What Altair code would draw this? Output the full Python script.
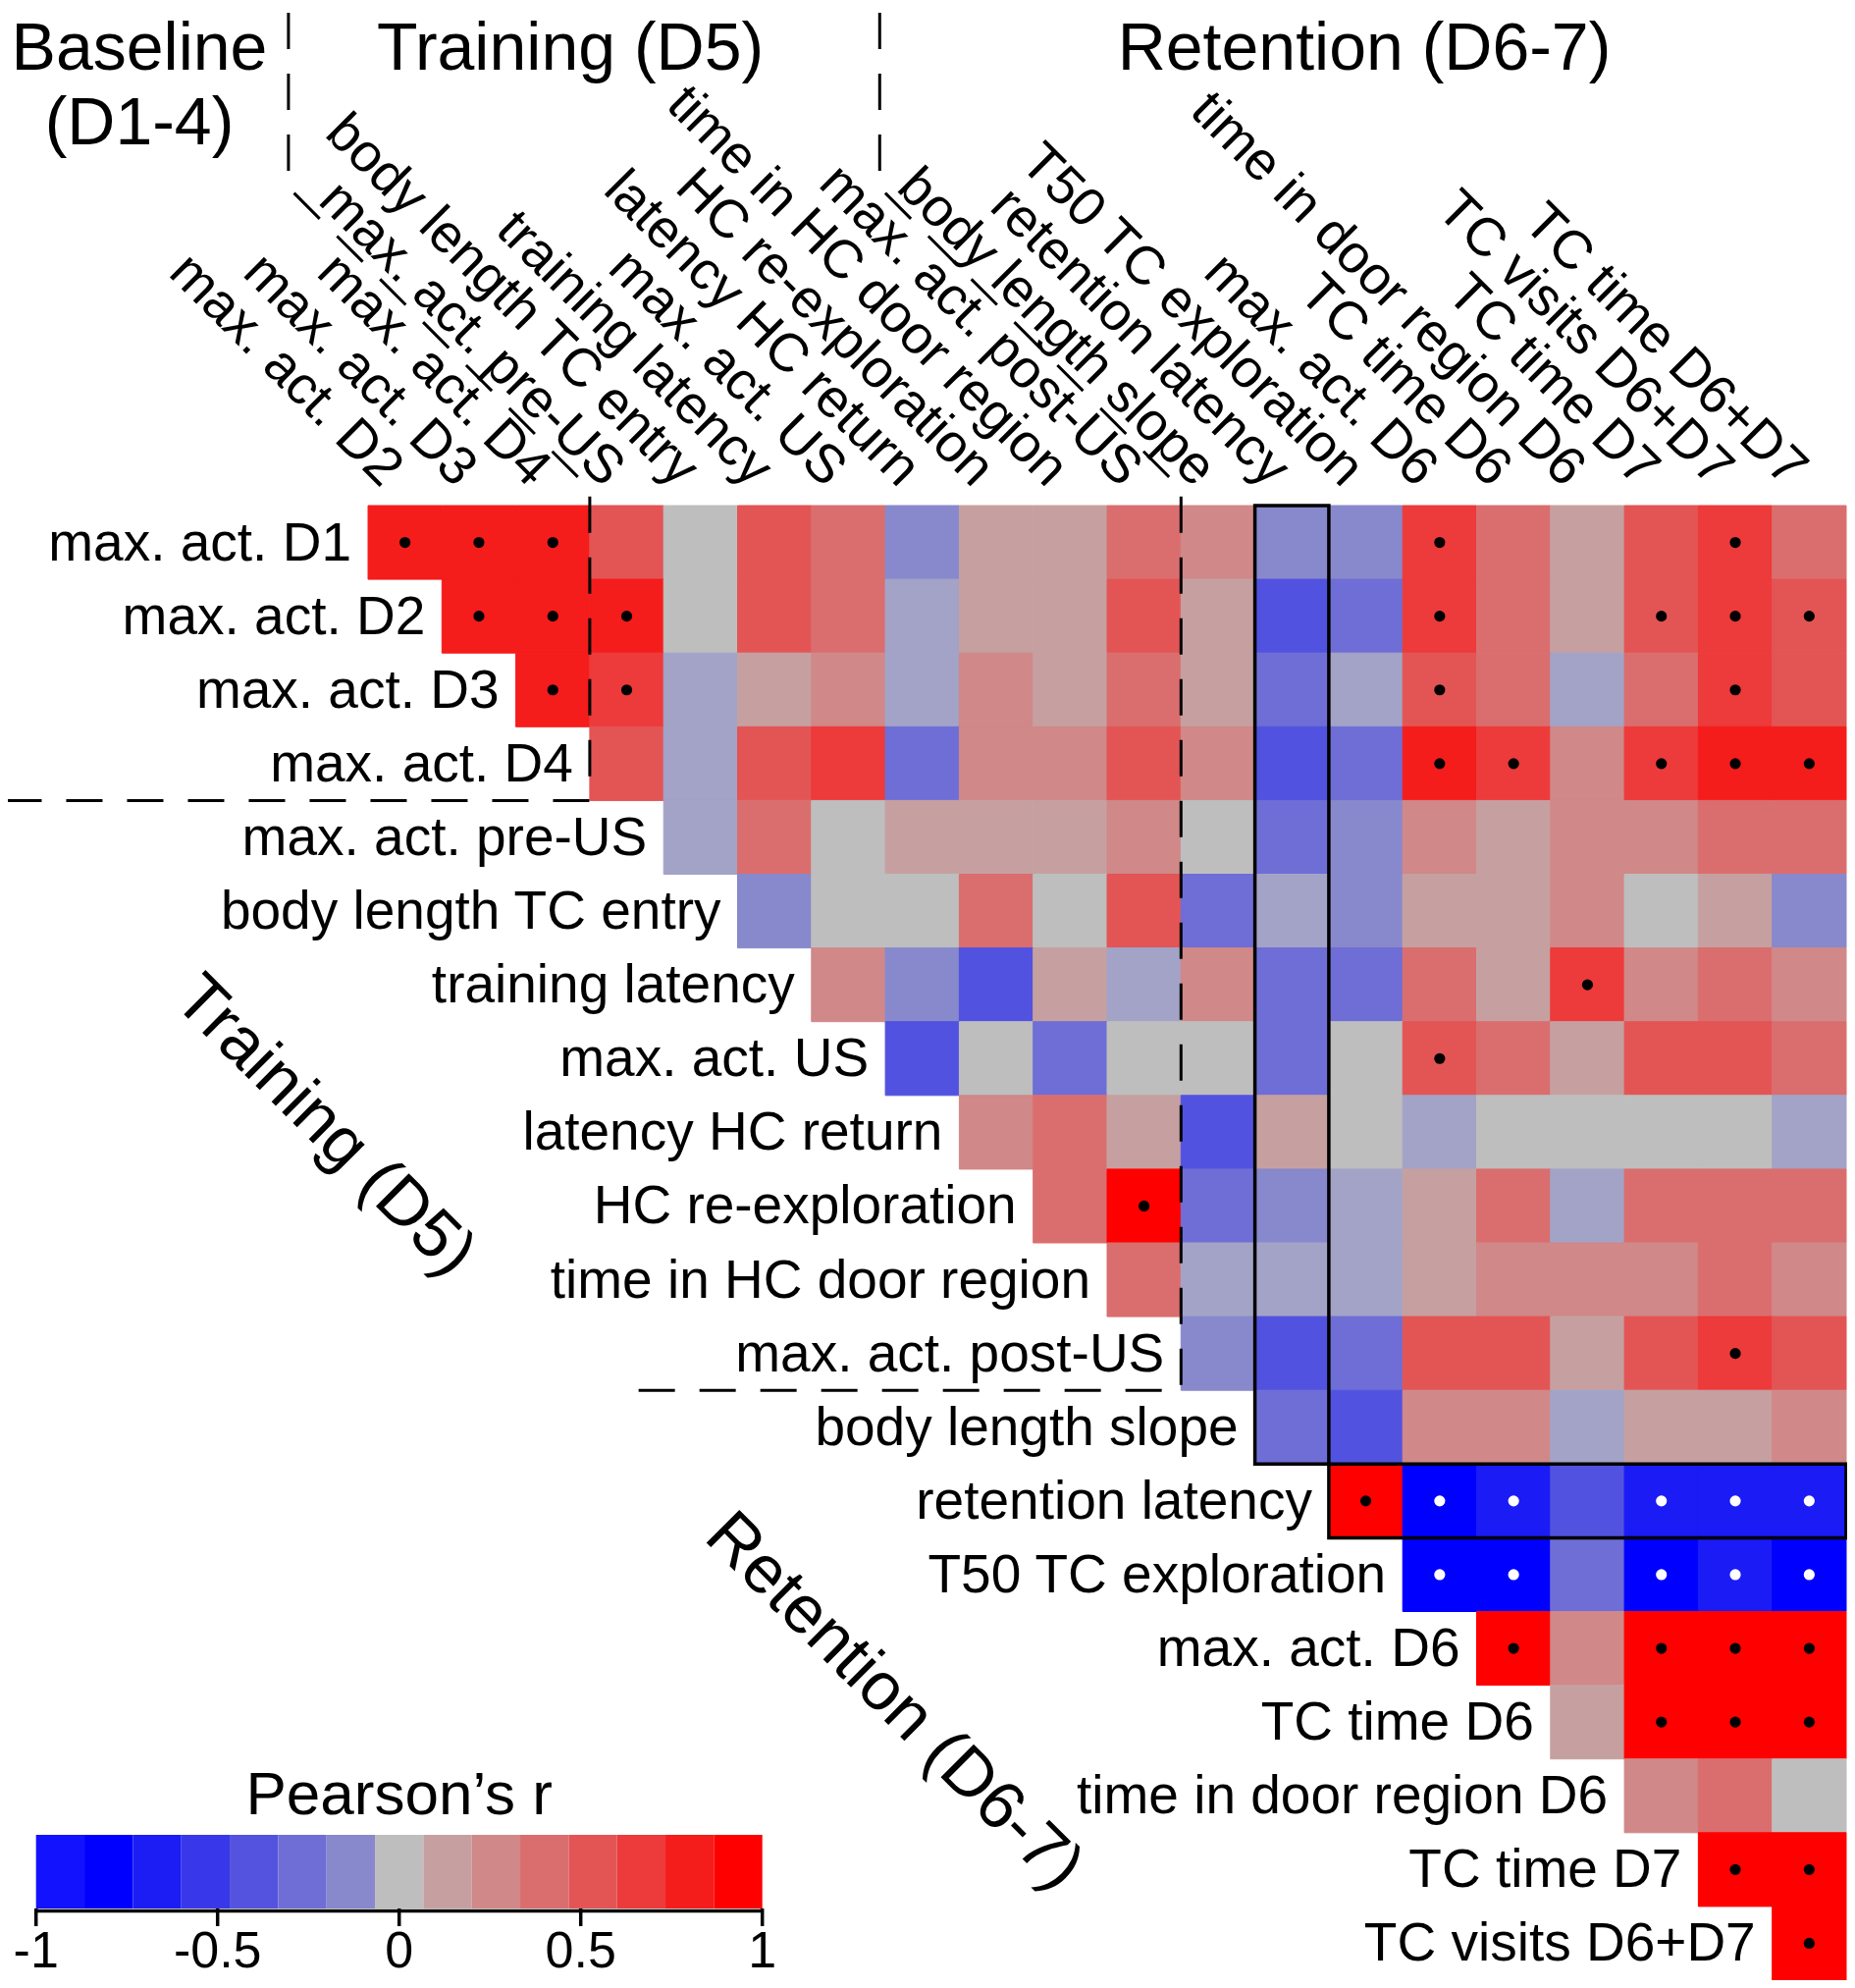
import altair as alt
import pandas as pd

# ------------------------------------------------------------------ data
VARIABLES = [
    "max. act. D1", "max. act. D2", "max. act. D3", "max. act. D4",
    "max. act. pre-US", "body length TC entry", "training latency",
    "max. act. US", "latency HC return", "HC re-exploration",
    "time in HC door region", "max. act. post-US", "body length slope",
    "retention latency", "T50 TC exploration", "max. act. D6",
    "TC time D6", "time in door region D6", "TC time D7",
    "TC visits D6+D7", "TC time D6+D7",
]
ROW_VARS = VARIABLES[:-1]
COL_VARS = VARIABLES[1:]

# Pearson's r of each row variable with the column variables from the
# diagonal (column index = row index) to the last column
r_max_act_D1 = [0.80, 0.80, 0.80, 0.53, 0.00, 0.53, 0.40, -0.27, 0.13, 0.13,
                0.40, 0.27, -0.27, -0.27, 0.67, 0.40, 0.13, 0.53, 0.67, 0.40]
r_max_act_D2 = [0.80, 0.80, 0.80, 0.00, 0.53, 0.40, -0.13, 0.13, 0.13, 0.53,
                0.13, -0.53, -0.40, 0.67, 0.40, 0.13, 0.53, 0.67, 0.53]
r_max_act_D3 = [0.80, 0.67, -0.13, 0.13, 0.27, -0.13, 0.27, 0.13, 0.40, 0.13,
                -0.40, -0.13, 0.53, 0.40, -0.13, 0.40, 0.67, 0.53]
r_max_act_D4 = [0.53, -0.13, 0.53, 0.67, -0.40, 0.27, 0.27, 0.53, 0.27, -0.53,
                -0.40, 0.80, 0.67, 0.27, 0.67, 0.80, 0.80]
r_pre_US = [-0.13, 0.40, 0.00, 0.13, 0.13, 0.13, 0.27, 0.00, -0.40, -0.27,
            0.27, 0.13, 0.27, 0.27, 0.40, 0.40]
r_body_len_TC_entry = [-0.27, 0.00, 0.00, 0.40, 0.00, 0.53, -0.40, -0.13, -0.27,
                       0.13, 0.13, 0.27, 0.00, 0.13, -0.27]
r_training_latency = [0.27, -0.27, -0.53, 0.13, -0.13, 0.27, -0.40, -0.40, 0.40,
                      0.13, 0.67, 0.27, 0.40, 0.27]
r_max_act_US = [-0.53, 0.00, -0.40, 0.00, 0.00, -0.40, 0.00, 0.53, 0.40, 0.13,
                0.53, 0.53, 0.40]
r_latency_HC_return = [0.27, 0.40, 0.13, -0.53, 0.13, 0.00, -0.13, 0.00, 0.00,
                       0.00, 0.00, -0.13]
r_HC_reexploration = [0.40, 0.93, -0.40, -0.27, -0.13, 0.13, 0.40, -0.13, 0.40,
                      0.40, 0.40]
r_time_HC_door = [0.40, -0.13, -0.13, -0.13, 0.13, 0.27, 0.27, 0.27, 0.40, 0.27]
r_post_US = [-0.27, -0.53, -0.40, 0.53, 0.53, 0.13, 0.53, 0.67, 0.53]
r_body_len_slope = [-0.40, -0.53, 0.27, 0.27, -0.13, 0.13, 0.13, 0.27]
r_retention_latency = [0.93, -0.93, -0.80, -0.53, -0.80, -0.80, -0.80]
r_T50_TC_exploration = [-0.93, -0.93, -0.40, -0.93, -0.80, -0.93]
r_max_act_D6 = [0.93, 0.27, 0.93, 0.93, 0.93]
r_TC_time_D6 = [0.13, 0.93, 0.93, 0.93]
r_door_region_D6 = [0.27, 0.40, 0.00]
r_TC_time_D7 = [0.93, 0.93]
r_TC_visits = [0.93]

R_ROWS = [r_max_act_D1, r_max_act_D2, r_max_act_D3, r_max_act_D4, r_pre_US,
          r_body_len_TC_entry, r_training_latency, r_max_act_US,
          r_latency_HC_return, r_HC_reexploration, r_time_HC_door, r_post_US,
          r_body_len_slope, r_retention_latency, r_T50_TC_exploration,
          r_max_act_D6, r_TC_time_D6, r_door_region_D6, r_TC_time_D7,
          r_TC_visits]

# significant correlations: column indices (into COL_VARS) per row
sig_max_act_D1 = [0, 1, 2, 14, 18]
sig_max_act_D2 = [1, 2, 3, 14, 17, 18, 19]
sig_max_act_D3 = [2, 3, 14, 18]
sig_max_act_D4 = [14, 15, 17, 18, 19]
sig_training_latency = [16]
sig_max_act_US = [14]
sig_HC_reexploration = [10]
sig_post_US = [18]
sig_retention_latency = [13, 14, 15, 17, 18, 19]
sig_T50_TC_exploration = [14, 15, 17, 18, 19]
sig_max_act_D6 = [15, 17, 18, 19]
sig_TC_time_D6 = [17, 18, 19]
sig_TC_time_D7 = [18, 19]
sig_TC_visits = [19]
SIG_ROWS = [sig_max_act_D1, sig_max_act_D2, sig_max_act_D3, sig_max_act_D4,
            [], [], sig_training_latency, sig_max_act_US, [],
            sig_HC_reexploration, [], sig_post_US, [],
            sig_retention_latency, sig_T50_TC_exploration, sig_max_act_D6,
            sig_TC_time_D6, [], sig_TC_time_D7, sig_TC_visits]

GROUP_STARTS = ["max. act. pre-US", "body length slope"]   # first variable of Training / Retention blocks
HIGHLIGHT_VAR = "retention latency"

TOP_TITLES = ["Baseline", "(D1-4)", "Training (D5)", "Retention (D6-7)"]
SIDE_TITLES = ["Training (D5)", "Retention (D6-7)"]
LEGEND_TITLE = "Pearson\u2019s r"
LEGEND_TICKS = [-1, -0.5, 0, 0.5, 1]
LEGEND_TICK_LABELS = ["-1", "-0.5", "0", "0.5", "1"]

# ------------------------------------------------------------------ style / layout
N_BINS = 15
THRESHOLDS = [-1 + 2 * k / N_BINS for k in range(1, N_BINS)]
CELL_COLORS = ["#0000FF", "#1B1BF5", "#3636EA", "#5252E0", "#6E6ED6", "#8888CC",
               "#A3A3C7", "#BEBEBE", "#C6A0A0", "#D08888", "#DA6E6E", "#E35555",
               "#ED3A3A", "#F51C1C", "#FF0000"]
LEGEND_COLORS = ["#1212FF", "#0000FF", "#1C1CF5", "#3838EA", "#5353E0", "#6E6ED6",
                 "#8888CC", "#BEBEBE", "#C6A0A0", "#D08888", "#DA6E6E", "#E35555",
                 "#ED3A3A", "#F51C1C", "#FF0000"]
FONT = "Liberation Sans"
LABEL_SIZE = 55

W, H, PAGE = 1874, 2009, 8
GX0, GY0 = 375.0, 515.0      # grid top-left (pixels)
CW, CH = 75.3, 75.1          # cell size (pixels)


def ux(px):
    return (px - GX0) / CW


def uy(py):
    return (py - GY0) / CH


XS = alt.Scale(domain=[ux(PAGE), ux(PAGE + W)], nice=False, zero=False)
YS = alt.Scale(domain=[uy(PAGE), uy(PAGE + H)], nice=False, zero=False, reverse=True)
CELL_SCALE = alt.Scale(type="threshold", domain=THRESHOLDS, range=CELL_COLORS)


def X(f):
    return alt.X(f, type="quantitative", scale=XS, axis=None)


def Y(f):
    return alt.Y(f, type="quantitative", scale=YS, axis=None)


# ------------------------------------------------------------------ tables
cells, black_dots, white_dots = [], [], []
for i, (row, vals) in enumerate(zip(ROW_VARS, R_ROWS)):
    for k, v in enumerate(vals):
        j = i + k
        rec = dict(row=row, col=COL_VARS[j], r=v, x0=j, x1=j + 1, y0=i, y1=i + 1,
                   xc=j + 0.5, yc=i + 0.5)
        cells.append(rec)
        if j in SIG_ROWS[i]:
            (black_dots if v > 0 else white_dots).append(rec)
cells_df = pd.DataFrame(cells)
black_df = pd.DataFrame(black_dots)
white_df = pd.DataFrame(white_dots)

collab_df = pd.DataFrame({
    "label": COL_VARS,
    "x": [j + 0.5 + (-24.0) / CW for j in range(len(COL_VARS))],
    "y": [(-17.0) / CH] * len(COL_VARS),
})
rowlab_df = pd.DataFrame({
    "label": ROW_VARS,
    "x": list(range(len(ROW_VARS))),
    "y": [i + 0.5 for i in range(len(ROW_VARS))],
})

hc = COL_VARS.index(HIGHLIGHT_VAR)
hr = ROW_VARS.index(HIGHLIGHT_VAR)
box_df = pd.DataFrame({
    "x0": [hc, hr], "x1": [hc + 1, len(COL_VARS)],
    "y0": [0, hr], "y1": [hr, hr + 1],
})

# dashed group separators: header vertical -> 45deg diagonal -> grid vertical -> row underline
line_rows = []
HEAD_TOP_PX, HEAD_CORNER_PX, HEAD_SHIFT_PX = 13.0, 191.0, 307.0
LEFT_END_PX = [6.0, 628.0]
for g, name in enumerate(GROUP_STARTS):
    cb = COL_VARS.index(name)
    rb = ROW_VARS.index(name)
    pts = [
        (cb - HEAD_SHIFT_PX / CW, uy(HEAD_TOP_PX)),
        (cb - HEAD_SHIFT_PX / CW, uy(HEAD_CORNER_PX)),
        (cb, uy(HEAD_CORNER_PX + HEAD_SHIFT_PX)),
        (cb, rb),
        (ux(LEFT_END_PX[g]), rb),
    ]
    for s, (x, y) in enumerate(pts):
        line_rows.append(dict(line=g, seq=s, x=x, y=y))
lines_df = pd.DataFrame(line_rows)

top_df = pd.DataFrame({
    "label": TOP_TITLES,
    "x": [ux(142), ux(142), ux(581), ux(1390)],
    "y": [uy(71), uy(147), uy(71), uy(71)],
})
side_df = pd.DataFrame({
    "label": SIDE_TITLES,
    "x": [ux(331), ux(911)],
    "y": [uy(1147), uy(1733)],
})

LEG_L, LEG_R, LEG_T, LEG_B = 36.7, 776.7, 1869.0, 1944.0


def lx(v):
    return ux(LEG_L + (v + 1) / 2 * (LEG_R - LEG_L))


edges = [-1.0] + THRESHOLDS + [1.0]
legend_df = pd.DataFrame({
    "x0": [lx(e) for e in edges[:-1]],
    "x1": [lx(e) for e in edges[1:]],
    "y0": [uy(LEG_T)] * N_BINS,
    "y1": [uy(LEG_B)] * N_BINS,
    "color": LEGEND_COLORS,
})
leg_axis_df = pd.DataFrame({"x0": [lx(-1)], "x1": [lx(1)], "y": [uy(1946.5)]})
leg_ticks_df = pd.DataFrame({
    "x": [lx(v) for v in LEGEND_TICKS],
    "y0": [uy(1944)] * len(LEGEND_TICKS),
    "y1": [uy(1962)] * len(LEGEND_TICKS),
    "label": LEGEND_TICK_LABELS,
    "ly": [uy(2004)] * len(LEGEND_TICKS),
})
leg_title_df = pd.DataFrame({"label": [LEGEND_TITLE], "x": [lx(0)], "y": [uy(1848)]})

# ------------------------------------------------------------------ layers
heat = alt.Chart(cells_df).mark_rect(strokeWidth=1).encode(
    x=X("x0"), x2=alt.X2("x1"), y=Y("y0"), y2=alt.Y2("y1"),
    color=alt.Color("r:Q", scale=CELL_SCALE, legend=None),
    stroke=alt.Stroke("r:Q", scale=CELL_SCALE, legend=None),
)
dots_b = alt.Chart(black_df).mark_circle(size=125, opacity=1, color="black").encode(
    x=X("xc"), y=Y("yc"))
dots_w = alt.Chart(white_df).mark_circle(size=125, opacity=1, color="white").encode(
    x=X("xc"), y=Y("yc"))
boxes = alt.Chart(box_df).mark_rect(filled=False, color="black", strokeWidth=3.5).encode(
    x=X("x0"), x2=alt.X2("x1"), y=Y("y0"), y2=alt.Y2("y1"))
seps = alt.Chart(lines_df).mark_line(color="black", strokeWidth=3, strokeDash=[37, 25],
                                     strokeCap="butt").encode(
    x=X("x"), y=Y("y"), order=alt.Order("seq:Q"), detail="line:N")
col_labels = alt.Chart(collab_df).mark_text(
    angle=45, align="right", baseline="alphabetic", fontSize=LABEL_SIZE, font=FONT,
    color="black").encode(x=X("x"), y=Y("y"), text="label:N")
row_labels = alt.Chart(rowlab_df).mark_text(
    align="right", baseline="alphabetic", dx=-17, dy=18, fontSize=LABEL_SIZE, font=FONT,
    color="black").encode(x=X("x"), y=Y("y"), text="label:N")
top_titles = alt.Chart(top_df).mark_text(
    align="center", baseline="alphabetic", fontSize=68, font=FONT,
    color="black").encode(x=X("x"), y=Y("y"), text="label:N")
side_titles = alt.Chart(side_df).mark_text(
    angle=45, align="center", baseline="middle", fontSize=69, font=FONT,
    color="black").encode(x=X("x"), y=Y("y"), text="label:N")
leg_blocks = alt.Chart(legend_df).mark_rect(strokeWidth=0).encode(
    x=X("x0"), x2=alt.X2("x1"), y=Y("y0"), y2=alt.Y2("y1"),
    fill=alt.Fill("color:N", scale=None))
leg_axis = alt.Chart(leg_axis_df).mark_rule(color="black", strokeWidth=3.5).encode(
    x=X("x0"), x2=alt.X2("x1"), y=Y("y"))
leg_ticks = alt.Chart(leg_ticks_df).mark_rule(color="black", strokeWidth=3.5).encode(
    x=X("x"), y=Y("y0"), y2=alt.Y2("y1"))
leg_labels = alt.Chart(leg_ticks_df).mark_text(
    align="center", baseline="alphabetic", fontSize=52, font=FONT,
    color="black").encode(x=X("x"), y=Y("ly"), text="label:N")
leg_title = alt.Chart(leg_title_df).mark_text(
    align="center", baseline="alphabetic", fontSize=62, font=FONT,
    color="black").encode(x=X("x"), y=Y("y"), text="label:N")

chart = alt.layer(
    heat, dots_b, dots_w, boxes, seps, col_labels, row_labels, top_titles,
    side_titles, leg_blocks, leg_axis, leg_ticks, leg_labels, leg_title,
).properties(
    width=W, height=H, padding=0, autosize=alt.AutoSizeParams(type="none"),
    background="white",
).configure_view(strokeWidth=0)

chart.save("out.html", embed_options={"renderer": "svg", "actions": False})
